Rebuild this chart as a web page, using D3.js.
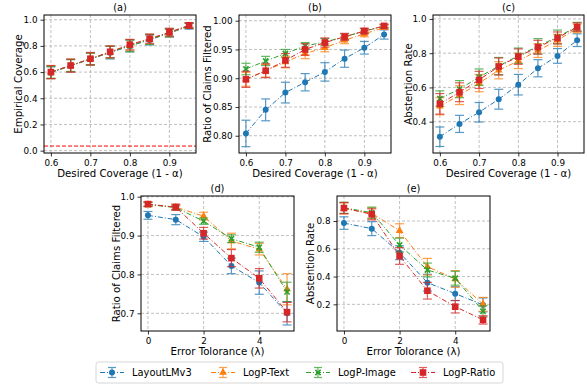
<!DOCTYPE html>
<html>
<head>
<meta charset="utf-8">
<script src="https://cdn.jsdelivr.net/npm/d3@7"></script>
<style>
body { margin: 0; background: #fff; }
svg { display: block; font-family: "DejaVu Sans", sans-serif; }
</style>
</head>
<body>
<svg id="chart" width="587" height="385"></svg>
<script>
var methods = ["LayoutLMv3", "LogP-Text", "LogP-Image", "LogP-Ratio"];
var colors = ["#1f77b4", "#ff7f0e", "#2ca02c", "#d62728"];
var markers = ["circle", "triangle", "x", "square"];

var coverage = [0.6, 0.65, 0.7, 0.75, 0.8, 0.85, 0.9, 0.95];
var tolerance = [0, 1, 2, 3, 4, 5];

// (a) empirical coverage
var covMean = [
    [0.595, 0.648, 0.700, 0.748, 0.800, 0.845, 0.898, 0.950],
    [0.600, 0.650, 0.700, 0.752, 0.805, 0.850, 0.900, 0.955],
    [0.598, 0.650, 0.700, 0.752, 0.800, 0.850, 0.900, 0.955],
    [0.600, 0.650, 0.702, 0.755, 0.810, 0.855, 0.905, 0.957]
];
var covErr = [
    [0.045, 0.048, 0.045, 0.048, 0.045, 0.038, 0.030, 0.022],
    [0.050, 0.048, 0.045, 0.045, 0.042, 0.038, 0.030, 0.020],
    [0.045, 0.045, 0.045, 0.045, 0.045, 0.038, 0.030, 0.020],
    [0.050, 0.050, 0.048, 0.045, 0.040, 0.035, 0.030, 0.020]
];
var targetLine = 0.035;

// (b) ratio of claims filtered vs coverage
var filtMean = [
    [0.804, 0.845, 0.875, 0.893, 0.911, 0.934, 0.953, 0.976],
    [0.898, 0.913, 0.928, 0.943, 0.953, 0.966, 0.977, 0.988],
    [0.916, 0.930, 0.943, 0.956, 0.963, 0.972, 0.982, 0.990],
    [0.898, 0.913, 0.931, 0.950, 0.962, 0.972, 0.982, 0.991]
];
var filtErr = [
    [0.023, 0.019, 0.018, 0.015, 0.016, 0.015, 0.011, 0.008],
    [0.012, 0.011, 0.010, 0.009, 0.007, 0.006, 0.005, 0.003],
    [0.010, 0.008, 0.007, 0.006, 0.006, 0.005, 0.004, 0.003],
    [0.014, 0.012, 0.012, 0.010, 0.008, 0.006, 0.005, 0.003]
];

// (c) abstention rate vs coverage
var abstMean = [
    [0.312, 0.387, 0.455, 0.531, 0.616, 0.712, 0.784, 0.876],
    [0.490, 0.555, 0.625, 0.700, 0.755, 0.815, 0.875, 0.945],
    [0.535, 0.590, 0.660, 0.725, 0.785, 0.840, 0.895, 0.955],
    [0.504, 0.572, 0.644, 0.722, 0.780, 0.835, 0.889, 0.952]
];
var abstErr = [
    [0.057, 0.050, 0.057, 0.058, 0.060, 0.050, 0.043, 0.037],
    [0.050, 0.055, 0.050, 0.050, 0.045, 0.040, 0.035, 0.025],
    [0.045, 0.050, 0.048, 0.050, 0.045, 0.045, 0.040, 0.025],
    [0.060, 0.055, 0.050, 0.050, 0.045, 0.040, 0.035, 0.025]
];

// (d) ratio of claims filtered vs error tolerance
var tolFiltMean = [
    [0.952, 0.941, 0.897, 0.822, 0.779, 0.700],
    [0.980, 0.973, 0.950, 0.886, 0.865, 0.762],
    [0.980, 0.972, 0.937, 0.892, 0.870, 0.755],
    [0.981, 0.973, 0.906, 0.842, 0.790, 0.703]
];
var tolFiltErr = [
    [0.010, 0.013, 0.012, 0.020, 0.030, 0.030],
    [0.006, 0.006, 0.010, 0.020, 0.015, 0.040],
    [0.005, 0.005, 0.008, 0.010, 0.013, 0.025],
    [0.006, 0.008, 0.015, 0.022, 0.025, 0.025]
];

// (e) abstention rate vs error tolerance
var tolAbstMean = [
    [0.785, 0.745, 0.572, 0.356, 0.277, 0.196],
    [0.890, 0.855, 0.730, 0.471, 0.383, 0.200],
    [0.895, 0.860, 0.627, 0.447, 0.388, 0.150],
    [0.893, 0.848, 0.548, 0.298, 0.183, 0.088]
];
var tolAbstErr = [
    [0.045, 0.050, 0.050, 0.060, 0.050, 0.050],
    [0.040, 0.040, 0.050, 0.060, 0.060, 0.050],
    [0.040, 0.040, 0.050, 0.050, 0.050, 0.040],
    [0.040, 0.040, 0.060, 0.060, 0.045, 0.030]
];

var svg = d3.select("#chart");
var tickFS = 8.8, labelFS = 10.2, titleFS = 9.8, legFS = 9.9;

var panels = [
    { title: "(a)", x: coverage, mean: covMean, err: covErr, left: 44, top: 15, w: 152, h: 138,
      xd: [0.5825, 0.9675], yd: [-0.018, 1.036], xt: [0.6, 0.7, 0.8, 0.9], yt: [0, 0.2, 0.4, 0.6, 0.8, 1.0],
      xf: ".1f", yf: ".1f", xl: "Desired Coverage (1 - \u03b1)", yl: "Empirical Coverage", ylx: 26, hline: targetLine },
    { title: "(b)", x: coverage, mean: filtMean, err: filtErr, left: 239, top: 15, w: 152, h: 138,
      xd: [0.5825, 0.9675], yd: [0.770, 1.0099], xt: [0.6, 0.7, 0.8, 0.9], yt: [0.80, 0.85, 0.90, 0.95, 1.00],
      xf: ".1f", yf: ".2f", xl: "Desired Coverage (1 - \u03b1)", yl: "Ratio of Claims Filtered", ylx: 32 },
    { title: "(c)", x: coverage, mean: abstMean, err: abstErr, left: 433, top: 15, w: 151, h: 138,
      xd: [0.5825, 0.9675], yd: [0.217, 1.023], xt: [0.6, 0.7, 0.8, 0.9], yt: [0.4, 0.6, 0.8, 1.0],
      xf: ".1f", yf: ".1f", xl: "Desired Coverage (1 - \u03b1)", yl: "Abstention Rate", ylx: 25 },
    { title: "(d)", x: tolerance, mean: tolFiltMean, err: tolFiltErr, left: 141, top: 196, w: 153, h: 135,
      xd: [-0.25, 5.25], yd: [0.6545, 1.0018], xt: [0, 2, 4], yt: [0.7, 0.8, 0.9, 1.0],
      xf: "d", yf: ".1f", xl: "Error Tolorance (\u03bb)", yl: "Ratio of Claims Filtered", ylx: 25 },
    { title: "(e)", x: tolerance, mean: tolAbstMean, err: tolAbstErr, left: 337, top: 196, w: 153, h: 135,
      xd: [-0.25, 5.25], yd: [0.008, 0.98], xt: [0, 2, 4], yt: [0.2, 0.4, 0.6, 0.8],
      xf: "d", yf: ".1f", xl: "Error Tolorance (\u03bb)", yl: "Abstention Rate", ylx: 27 }
];

function drawMarker(g, type, color, cx, cy) {
    if (type == "circle") {
        g.append("circle").attr("cx", cx).attr("cy", cy).attr("r", 3).attr("fill", color);
    } else if (type == "triangle") {
        g.append("path").attr("transform", "translate(" + cx + "," + cy + ")")
            .attr("d", d3.symbol(d3.symbolTriangle, 26)()).attr("fill", color);
    } else if (type == "square") {
        g.append("rect").attr("x", cx - 3.3).attr("y", cy - 3.3).attr("width", 6.6).attr("height", 6.6)
            .attr("fill", color);
    } else {
        g.append("path").attr("d", "M" + (cx - 2.6) + "," + (cy - 2.6) + "L" + (cx + 2.6) + "," + (cy + 2.6) +
            "M" + (cx - 2.6) + "," + (cy + 2.6) + "L" + (cx + 2.6) + "," + (cy - 2.6))
            .attr("stroke", color).attr("stroke-width", 1.6);
    }
}

panels.forEach(function(p) {
    var g = svg.append("g").attr("transform", "translate(" + p.left + "," + p.top + ")");
    var x = d3.scaleLinear().domain(p.xd).range([0, p.w]);
    var y = d3.scaleLinear().domain(p.yd).range([p.h, 0]);

    // grid
    g.append("g").selectAll("line").data(p.xt).enter().append("line")
        .attr("x1", function(d) { return x(d); }).attr("x2", function(d) { return x(d); })
        .attr("y1", 0).attr("y2", p.h)
        .attr("stroke", "#b0b0b0").attr("stroke-width", 0.8).attr("stroke-dasharray", "3,2");
    g.append("g").selectAll("line").data(p.yt).enter().append("line")
        .attr("y1", function(d) { return y(d); }).attr("y2", function(d) { return y(d); })
        .attr("x1", 0).attr("x2", p.w)
        .attr("stroke", "#b0b0b0").attr("stroke-width", 0.8).attr("stroke-dasharray", "3,2");

    if (p.hline != null) {
        g.append("line").attr("x1", 0).attr("x2", p.w)
            .attr("y1", y(p.hline)).attr("y2", y(p.hline))
            .attr("stroke", "#ff0000").attr("stroke-width", 1).attr("stroke-dasharray", "4,2");
    }

    var line = d3.line()
        .x(function(d) { return x(d[0]); })
        .y(function(d) { return y(d[1]); });

    p.mean.forEach(function(vals, mi) {
        var c = colors[mi];
        var pts = vals.map(function(v, i) { return [p.x[i], v]; });
        var sg = g.append("g");
        sg.append("path").datum(pts).attr("d", line)
            .attr("fill", "none").attr("stroke", c).attr("stroke-width", 1)
            .attr("stroke-dasharray", "5,2,1,2");
        // error bars
        var eg = sg.append("g").attr("opacity", 0.75);
        vals.forEach(function(v, i) {
            var cx = x(p.x[i]);
            var e = p.err[mi][i];
            var y0 = y(v - e), y1 = y(v + e);
            eg.append("line").attr("x1", cx).attr("x2", cx).attr("y1", y0).attr("y2", y1)
                .attr("stroke", c).attr("stroke-width", 1.2);
            eg.append("line").attr("x1", cx - 4.5).attr("x2", cx + 4.5).attr("y1", y0).attr("y2", y0)
                .attr("stroke", c).attr("stroke-width", 1.2);
            eg.append("line").attr("x1", cx - 4.5).attr("x2", cx + 4.5).attr("y1", y1).attr("y2", y1)
                .attr("stroke", c).attr("stroke-width", 1.2);
        });
        vals.forEach(function(v, i) {
            drawMarker(sg, markers[mi], c, x(p.x[i]), y(v));
        });
    });

    // axes
    var xa = g.append("g").attr("transform", "translate(0," + p.h + ")")
        .call(d3.axisBottom(x).tickValues(p.xt).tickFormat(d3.format(p.xf)).tickSizeOuter(0).tickSize(3.5).tickPadding(3));
    var ya = g.append("g")
        .call(d3.axisLeft(y).tickValues(p.yt).tickFormat(d3.format(p.yf)).tickSizeOuter(0).tickSize(3.5).tickPadding(3));
    [xa, ya].forEach(function(a) {
        a.select(".domain").remove();
        a.selectAll("text").attr("font-size", tickFS).attr("font-family", "DejaVu Sans").attr("fill", "#000");
        a.selectAll("line").attr("stroke", "#000").attr("stroke-width", 0.8);
    });

    g.append("rect").attr("width", p.w).attr("height", p.h)
        .attr("fill", "none").attr("stroke", "#000").attr("stroke-width", 1);

    g.append("text").attr("x", p.w / 2).attr("y", -4).attr("text-anchor", "middle")
        .attr("font-size", titleFS).text(p.title);
    g.append("text").attr("x", p.w / 2).attr("y", p.h + 24).attr("text-anchor", "middle")
        .attr("font-size", labelFS).text(p.xl);
    g.append("text").attr("transform", "translate(" + (-p.ylx) + "," + (p.h / 2) + ") rotate(-90)")
        .attr("text-anchor", "middle").attr("dy", "0.35em")
        .attr("font-size", labelFS).text(p.yl);
});

// legend
var lg = svg.append("g").attr("transform", "translate(96,362)");
lg.append("rect").attr("width", 407).attr("height", 21).attr("rx", 2.5)
    .attr("fill", "#fff").attr("stroke", "#cccccc").attr("stroke-width", 0.8);
var legX = [0, 111, 206, 311];
methods.forEach(function(m, i) {
    var gx = legX[i], cy = 10.5, c = colors[i];
    var eg = lg.append("g");
    eg.append("line").attr("x1", gx + 4).attr("x2", gx + 28).attr("y1", cy).attr("y2", cy)
        .attr("stroke", c).attr("stroke-width", 1).attr("stroke-dasharray", "5,2,1,2");
    var bg = eg.append("g").attr("opacity", 0.75);
    bg.append("line").attr("x1", gx + 16).attr("x2", gx + 16).attr("y1", cy - 5).attr("y2", cy + 5)
        .attr("stroke", c).attr("stroke-width", 1.2);
    bg.append("line").attr("x1", gx + 12).attr("x2", gx + 20).attr("y1", cy - 5).attr("y2", cy - 5)
        .attr("stroke", c).attr("stroke-width", 1.2);
    bg.append("line").attr("x1", gx + 12).attr("x2", gx + 20).attr("y1", cy + 5).attr("y2", cy + 5)
        .attr("stroke", c).attr("stroke-width", 1.2);
    drawMarker(eg, markers[i], c, gx + 16, cy);
    lg.append("text").attr("x", gx + 36).attr("y", cy).attr("dy", "0.35em")
        .attr("font-size", legFS).text(m);
});
</script>
</body>
</html>
